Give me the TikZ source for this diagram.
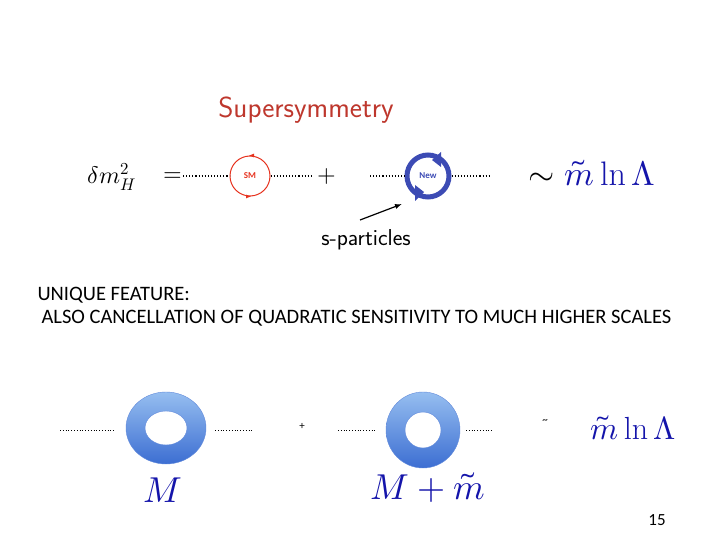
\documentclass[tikz,border=0pt]{standalone}
\usepackage{fontspec}
\setmainfont{Carlito}
\usepackage{unicode-math}
\setmathfont{Latin Modern Math}
\setmathrm{Latin Modern Roman}
\usetikzlibrary{arrows.meta}
\definecolor{smred}{RGB}{230,50,30}
\definecolor{newblue}{RGB}{60,75,180}
\definecolor{titred}{RGB}{190,55,45}
\definecolor{mblue}{RGB}{20,20,170}
\definecolor{ringtop}{RGB}{150,190,240}
\definecolor{ringbot}{RGB}{60,110,210}
\tikzset{dots/.style={dotted,line width=1.1pt},
 ring/.style={top color=ringtop,bottom color=ringbot,draw=ringbot!80,even odd rule},
 body/.style={font=\fontsize{20.5}{23}\selectfont}}
\begin{document}
\begin{tikzpicture}[x=1pt,y=-1pt]
\useasboundingbox (0,0) rectangle (720,540);
\node[text=titred,font=\sffamily\fontsize{29}{32}\selectfont] (title) at (306,110) {Supersymmetry};
\node[font=\fontsize{24}{28}\selectfont] (dm) at (112,177) {$\delta m_H^2$};
\node[font=\fontsize{24}{28}\selectfont] (eq) at (173,177) {$=$};
\node[circle,draw=smred,line width=1pt,minimum size=40pt,inner sep=0,text=smred,font=\rmfamily\fontsize{9}{10}\selectfont\bfseries] (sm) at (250,176) {SM};
\coordinate (a1) at (183,176); \coordinate (a2) at (312,176);
\draw[dots] (a1) -- (sm.west); \draw[dots] (sm.east) -- (a2);
\draw[smred,-{Latex[length=5pt]}] (sm.north) ++(3,0) -- ++(-4,0);
\draw[smred,-{Latex[length=5pt]}] (sm.south) ++(-3,0) -- ++(4,0);
\node[font=\fontsize{24}{28}\selectfont] (pl) at (327,177) {$+$};
\node[circle,draw=newblue,line width=5pt,minimum size=42pt,inner sep=0,text=newblue,font=\rmfamily\fontsize{9}{10}\selectfont\bfseries] (nw) at (428,176) {New};
\coordinate (b1) at (370,176); \coordinate (b2) at (490,176);
\draw[dots] (b1) -- (nw.west); \draw[dots] (nw.east) -- (b2);
\fill[newblue] (432,160) -- (441,152) -- (441,167) -- cycle;
\fill[newblue] (424,192) -- (415,185) -- (415,201) -- cycle;
\node[font=\fontsize{34}{38}\selectfont] (res) at (592,173) {$\sim\textcolor{mblue}{\tilde m\ln\Lambda}$};
\node[font=\sffamily\fontsize{23}{26}\selectfont] (sp) at (366,240) {s-particles};
\coordinate (ar) at (360,220);
\draw[line width=1.2pt,-{Latex[length=7pt]}] (ar) -- (402,204);
\node[anchor=west,body] (u1) at (34,295) {UNIQUE FEATURE:};
\node[anchor=west,body] (u2) at (38,318) {ALSO CANCELLATION OF QUADRATIC SENSITIVITY TO MUCH HIGHER SCALES};
\path[ring] (166,428) ellipse [x radius=40,y radius=36] (166,428) ellipse [x radius=21,y radius=17];
\draw[dots,line width=0.8pt] (60,430) -- (115,430); \draw[dots,line width=0.8pt] (215,430) -- (252,430);
\node[font=\fontsize{11}{12}\selectfont] (p2) at (302,426) {+};
\path[ring] (423,430) ellipse [x radius=37,y radius=38] (423,430) ellipse [x radius=18,y radius=18];
\draw[dots,line width=0.8pt] (338,430) -- (377,430); \draw[dots,line width=0.8pt] (466,430) -- (493,430);
\node[font=\fontsize{11}{12}\selectfont] (t2) at (545,422) {\textasciitilde};
\node[text=mblue,font=\fontsize{32}{36}\selectfont] (res2) at (633,428) {$\tilde m\ln\Lambda$};
\node[text=mblue,font=\fontsize{36}{40}\selectfont] (M1) at (163,490) {$M$};
\node[text=mblue,font=\fontsize{36}{40}\selectfont] (M2) at (428,488) {$M+\tilde m$};
\node[font=\fontsize{17}{20}\selectfont] (pg) at (657,520) {15};
\end{tikzpicture}
\end{document}
